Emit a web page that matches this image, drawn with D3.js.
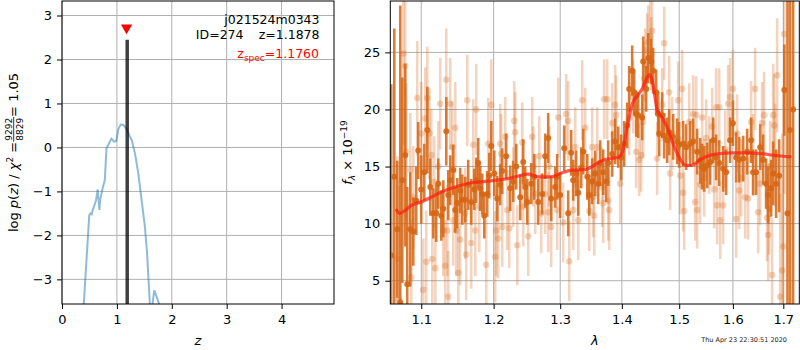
<!DOCTYPE html>
<html>
<head>
<meta charset="utf-8">
<script src="https://cdn.jsdelivr.net/npm/d3@7"></script>
<style>
  html, body { margin: 0; padding: 0; background: #fff; }
  svg { display: block; font-family: "DejaVu Sans", sans-serif; }
</style>
</head>
<body>
<svg id="chart" width="800" height="350"></svg>
<script>
// ---------------- data: left panel (redshift PDF) ----------------
const zTicks = [0, 1, 2, 3, 4];
const logpTicks = [-3, -2, -1, 0, 1, 2, 3];
const pzZ   = [0.38, 0.497, 0.52, 0.54, 0.57, 0.62, 0.65, 0.68, 0.70, 0.74, 0.78, 0.81, 0.86, 0.90, 0.95, 0.99, 1.03, 1.07, 1.12, 1.18, 1.24, 1.27, 1.33, 1.39, 1.45, 1.51, 1.55, 1.60, 1.62, 1.66, 1.68, 1.72, 1.78, 1.82];
const pzLog = [-3.9, -1.54, -1.5, -1.52, -1.39, -1.2, -0.95, -1.42, -1.16, -0.93, -0.74, -0.02, 0.1, 0.2, 0.13, 0.15, 0.43, 0.52, 0.51, 0.41, 0.24, 0.17, -0.14, -0.59, -1.2, -1.8, -2.4, -3.56, -3.9, -3.45, -3.25, -3.38, -3.6, -3.9];
const zBest = 1.1878, zBestTop = 2.45;
const zSpec = 1.1760, zSpecMark = 2.72;
const fieldName = "j021524m0343";
const idText = "ID=274";
const zText = "z=1.1878";
const zSpecText = "=1.1760";

// ---------------- data: right panel (spectrum) ----------------
const lamTicks = [1.1, 1.2, 1.3, 1.4, 1.5, 1.6, 1.7];
const fluxTicks = [5, 10, 15, 20, 25];

const darkLam = [1.0610,1.0649,1.0687,1.0726,1.0752,1.0790,1.0816,1.0856,1.0895,1.0934,1.0960,1.1000,1.1040,1.1080,1.1120,1.1160,1.1200,1.1227,1.1268,1.1295,1.1336,1.1363,1.1390,1.1431,1.1459,1.1487,1.1527,1.1556,1.1598,1.1639,1.1681,1.1724,1.1752,1.1780,1.1809,1.1837,1.1866,1.1908,1.1937,1.1966,1.2009,1.2052,1.2095,1.2124,1.2183,1.2242,1.2286,1.2331,1.2390,1.2435,1.2465,1.2495,1.2555,1.2600,1.2661,1.2722,1.2768,1.2814,1.2860,1.2922,1.2953,1.3000,1.3063,1.3126,1.3173,1.3205,1.3253,1.3285,1.3333,1.3365,1.3430,1.3462,1.3510,1.3559,1.3608,1.3641,1.3690,1.3739,1.3772,1.3839,1.3888,1.3939,1.3989,1.4040,1.4090,1.4124,1.4175,1.4209,1.4244,1.4278,1.4347,1.4364,1.4416,1.4451,1.4503,1.4538,1.4590,1.4625,1.4643,1.4696,1.4731,1.4784,1.4820,1.4891,1.4963,1.4999,1.5071,1.5126,1.5199,1.5254,1.5327,1.5383,1.5420,1.5457,1.5513,1.5569,1.5625,1.5681,1.5739,1.5814,1.5871,1.5947,1.6000,1.6063,1.6121,1.6199,1.6277,1.6355,1.6394,1.6453,1.6534,1.6592,1.6652,1.6693,1.6753,1.6794,1.6854,1.6915,1.7021,1.7085,1.7139,1.7202];
const darkFlux = [7.2,14.1,9.5,3.1,13.8,16.0,4.7,9.5,9.3,12.0,16.4,13.0,14.5,18.2,13.2,10.9,10.9,13.5,10.7,11.3,18.1,12.5,13.8,14.7,11.2,11.8,12.9,12.1,12.1,13.4,11.9,13.0,13.8,15.3,13.1,12.6,10.7,12.6,14.2,16.8,14.4,12.2,13.4,14.6,15.9,13.1,13.7,15.0,12.3,15.4,13.2,11.9,13.5,14.1,11.9,12.6,15.9,17.5,12.2,13.2,14.1,12.5,16.6,10.9,16.2,13.8,14.4,12.7,14.9,16.3,14.1,12.5,13.7,14.4,13.5,15.3,14.5,13.7,15.3,16.1,17.2,16.7,15.8,17.0,18.6,21.8,23.4,21.5,19.6,19.5,19.3,24.2,21.8,24.5,24.2,23.4,21.5,19.6,17.9,19.5,17.7,17.3,18.0,17.6,17.2,16.9,17.0,16.7,17.0,17.2,16.3,15.5,15.0,14.8,15.1,15.4,17.3,15.8,15.3,14.8,14.5,17.3,18.8,15.8,15.6,15.7,16.3,17.3,14.5,14.5,16.7,15.6,13.5,12.5,13.1,14.4,13.5,14.2,21.7,10.9,18.2,20.0];
const darkErr = [15,13,6,26,9,8,8.5,5,3,3,2.5,3,2.5,3.8,2.5,2.2,2.5,2.2,2.2,2.5,3.0,2.2,2.2,2.2,2.0,2.2,2.0,2.2,2.0,2.2,2.0,1.8,2.0,2.2,2.0,1.8,2.0,2.0,2.0,2.2,2.0,2.0,1.8,2.0,2.0,2.0,1.8,2.0,2.0,2.0,1.8,2.0,1.8,2.0,2.0,1.8,2.0,2.2,2.0,1.8,2.0,2.0,2.0,2.0,2.0,1.8,2.0,2.0,1.8,2.0,2.0,1.8,2.0,2.0,1.8,2.0,2.0,1.8,2.0,2.0,2.0,1.8,2.0,2.0,2.0,2.0,2.2,2.0,2.0,2.0,2.0,2.2,2.0,2.2,2.0,2.0,2.0,2.0,2.0,2.0,2.0,2.0,2.0,2.0,2.0,2.0,2.0,2.0,2.0,2.0,2.0,2.0,2.0,2.0,2.0,2.0,2.0,2.0,2.0,2.0,2.0,2.0,2.0,2.2,2.0,2.0,2.0,2.0,2.0,2.0,2.0,2.2,2.2,2.5,2.5,2.8,3.0,3.2,4.0,20,20,20,9];

const lightLam = [1.0687,1.0713,1.0765,1.0790,1.0803,1.0856,1.0869,1.0895,1.0947,1.1000,1.1026,1.1053,1.1066,1.1080,1.1107,1.1133,1.1147,1.1173,1.1187,1.1227,1.1254,1.1295,1.1322,1.1336,1.1350,1.1363,1.1390,1.1418,1.1431,1.1459,1.1473,1.1501,1.1527,1.1598,1.1611,1.1625,1.1681,1.1710,1.1738,1.1752,1.1795,1.1894,1.1923,1.1966,1.2023,1.2038,1.2066,1.2095,1.2109,1.2124,1.2168,1.2198,1.2227,1.2286,1.2301,1.2316,1.2346,1.2420,1.2435,1.2510,1.2570,1.2585,1.2615,1.2676,1.2707,1.2768,1.2814,1.2830,1.2860,1.2953,1.2969,1.3047,1.3094,1.3126,1.3142,1.3205,1.3237,1.3285,1.3349,1.3397,1.3462,1.3510,1.3526,1.3543,1.3592,1.3674,1.3690,1.3706,1.3756,1.3772,1.3789,1.3839,1.3888,1.3905,1.3972,1.4124,1.4192,1.4244,1.4296,1.4330,1.4364,1.4381,1.4399,1.4433,1.4451,1.4485,1.4503,1.4520,1.4608,1.4696,1.4731,1.4820,1.4838,1.4874,1.4981,1.5017,1.5053,1.5071,1.5090,1.5181,1.5254,1.5290,1.5309,1.5327,1.5383,1.5420,1.5457,1.5494,1.5550,1.5606,1.5644,1.5681,1.5700,1.5739,1.5758,1.5814,1.5852,1.5909,1.5947,1.6000,1.6063,1.6082,1.6121,1.6160,1.6238,1.6296,1.6355,1.6394,1.6433,1.6494,1.6534,1.6572,1.6612,1.6672,1.6693,1.6713,1.6733,1.6773,1.6794,1.6814,1.6834,1.6874,1.6936,1.6979,1.7000,1.7021];
const lightFlux = [6.9,3.3,24.9,23.8,16.3,14.7,5.3,12.3,21.0,17.9,4.2,19.2,6.65,21.0,17.9,16.0,6.9,13.65,6.1,15.0,20.5,9.4,6.3,22.6,9.4,3.6,20.5,16.7,10.3,18.4,9.4,5.7,8.6,10.9,7.3,20.8,8.3,16.9,9.4,20.0,11.5,6.4,17.0,20.4,7.1,9.4,8.7,17.0,16.1,9.7,17.6,11.2,9.6,13.2,19.0,18.0,8.1,17.1,11.5,8.9,17.6,15.0,12.6,15.9,10.9,12.6,11.0,15.0,9.7,11.2,19.3,10.1,19.6,19.0,6.7,11.2,16.7,10.3,20.8,18.4,11.1,16.7,12.3,10.7,16.7,13.2,11.8,20.9,20.9,12.0,11.2,18.8,20.4,19.5,13.5,19.2,21.1,16.3,15.6,16.0,18.9,22.7,23.9,25.2,25.9,26.4,24.9,26.9,15.7,20.4,25.8,21.5,14.4,17.9,20.8,14.2,21.8,12.7,11.1,18.9,19.6,11.9,19.5,11.2,13.4,19.3,14.0,17.5,16.0,18.5,13.0,20.2,11.6,20.2,10.3,11.6,16.5,20.5,21.1,21.8,10.4,17.9,12.9,14.0,12.3,12.2,18.9,16.0,21.8,11.0,13.5,18.8,19.5,10.5,9.0,11.3,15.0,5.5,19.5,18.6,16.0,23.0,3.6,5.9,8.0,26.6];
const lightErr = [9,10,8,8,6,5,5,4.5,5,4.5,4.5,4.5,4.5,4.5,4,4,4,4,4,4,4,4,4,4.5,4,4,4,4,4,4,4,4,4,4,4,4,4,4,4,4,4,4,4,4,4,4,3.5,3.5,3.5,3.5,3.5,3.5,3.5,3.5,3.5,3.5,3.5,3.5,3.5,3.5,3.5,3.5,3.5,3.5,3.5,3.5,3.5,3.5,3.5,3.5,3.5,3.5,3.5,3.5,3.5,3.5,3.5,3.5,3.5,3.5,3.5,3.5,3.5,3.5,3.5,3.5,3.5,3.5,3.5,3.5,3.5,3.5,3.5,3.5,3.5,3.2,3.2,3.2,3.2,3.2,3.2,3.2,3.2,3.2,3.2,3.2,3.2,3.2,3.2,3.2,3.2,3.2,3.2,3.2,3.4,3.4,3.4,3.4,3.4,3.4,3.4,3.4,3.4,3.4,3.4,3.4,3.4,3.4,3.4,3.4,3.4,3.4,3.4,3.4,3.4,3.4,3.4,3.4,3.4,3.4,3.4,3.4,3.4,3.4,3.6,3.6,3.6,3.6,3.6,3.6,3.6,3.6,3.8,3.8,4,4,4,5,4.5,4.5,4.5,5,9,12,14,14];

const modelLam  = [1.068,1.072,1.079,1.087,1.100,1.114,1.127,1.140,1.154,1.167,1.181,1.195,1.203,1.221,1.235,1.251,1.266,1.286,1.302,1.318,1.340,1.350,1.361,1.372,1.381,1.395,1.401,1.409,1.418,1.427,1.435,1.444,1.448,1.452,1.461,1.469,1.478,1.489,1.501,1.512,1.523,1.538,1.557,1.576,1.600,1.627,1.653,1.680,1.700,1.714];
const modelFlux = [11.17,10.9,11.17,11.6,11.9,12.34,12.78,13.07,13.36,13.56,13.65,13.74,13.8,13.95,14.15,14.33,14.09,14.09,14.44,14.68,14.74,14.97,15.35,15.61,15.7,15.84,16.28,18.47,20.52,21.24,21.83,22.85,23.08,22.56,19.93,19.34,18.47,17.01,15.7,15.11,15.11,15.6,15.99,16.14,16.19,16.19,16.14,15.99,15.9,15.84];

const stamp = "Thu Apr 23 22:30:51 2020";

// ---------------- drawing ----------------
const svg = d3.select("#chart");
const FONT = "DejaVu Sans";
const TICK_FS = 13;
const ANN_FS = 12.5;
const GRID = "#b0b0b0";
const ORANGE = "#d66614";
const minusFmt = v => (v < 0 ? "\u2212" + Math.abs(v) : String(v));

const L = {x0: 62, x1: 334, y0: 1, y1: 304};
const R = {x0: 390.3, x1: 799.3, y0: 1, y1: 304};

const xz = d3.scaleLinear().domain([0, 4.955]).range([L.x0, L.x1]);
const yp = d3.scaleLinear().domain([-3.56, 3.33]).range([L.y1, L.y0]);
const xl = d3.scaleLog().domain([1.0598, 1.733]).range([R.x0, R.x1]);
const yf = d3.scaleLinear().domain([2.96, 29.5]).range([R.y1, R.y0]);

const defs = svg.append("defs");
defs.append("clipPath").attr("id", "clipL").append("rect")
  .attr("x", L.x0).attr("y", L.y0).attr("width", L.x1 - L.x0).attr("height", L.y1 - L.y0);
defs.append("clipPath").attr("id", "clipR").append("rect")
  .attr("x", R.x0).attr("y", R.y0).attr("width", R.x1 - R.x0).attr("height", R.y1 - R.y0);

function grid(g, xs, xt, ys, yt, B) {
  g.selectAll(".gx").data(xt).join("line").attr("class", "gx")
    .attr("x1", d => xs(d)).attr("x2", d => xs(d))
    .attr("y1", B.y0).attr("y2", B.y1)
    .attr("stroke", GRID).attr("stroke-width", 1);
  g.selectAll(".gy").data(yt).join("line").attr("class", "gy")
    .attr("x1", B.x0).attr("x2", B.x1)
    .attr("y1", d => ys(d)).attr("y2", d => ys(d))
    .attr("stroke", GRID).attr("stroke-width", 1);
}

function axes(xs, xt, xfmt, ys, yt, yfmt, B) {
  const gx = svg.append("g").attr("transform", `translate(0,${B.y1})`)
    .call(d3.axisBottom(xs).tickValues(xt).tickFormat(xfmt).tickSize(5).tickPadding(6));
  const gy = svg.append("g").attr("transform", `translate(${B.x0},0)`)
    .call(d3.axisLeft(ys).tickValues(yt).tickFormat(yfmt).tickSize(5).tickPadding(5));
  [gx, gy].forEach(g => {
    g.select(".domain").remove();
    g.attr("font-family", FONT).attr("font-size", TICK_FS);
    g.selectAll("line").attr("stroke", "#000").attr("stroke-width", 1);
    g.selectAll("text").attr("fill", "#000");
  });
  svg.append("rect").attr("x", B.x0).attr("y", B.y0)
    .attr("width", B.x1 - B.x0).attr("height", B.y1 - B.y0)
    .attr("fill", "none").attr("stroke", "#000").attr("stroke-width", 1);
}

// ---- left panel ----
const gL = svg.append("g");
grid(gL.append("g"), xz, zTicks, yp, logpTicks, L);
const plotL = gL.append("g").attr("clip-path", "url(#clipL)");
plotL.append("path")
  .datum(pzZ.map((z, i) => [z, pzLog[i]]))
  .attr("d", d3.line().x(d => xz(d[0])).y(d => yp(d[1])))
  .attr("fill", "none").attr("stroke", "#1f77b4").attr("stroke-opacity", 0.5)
  .attr("stroke-width", 2);
plotL.append("line")
  .attr("x1", xz(zBest)).attr("x2", xz(zBest))
  .attr("y1", yp(-3.56)).attr("y2", yp(zBestTop))
  .attr("stroke", "#000").attr("stroke-opacity", 0.75).attr("stroke-width", 3.5);
const tri = d3.symbol().type(d3.symbolTriangle).size(55);
plotL.append("path").attr("d", tri)
  .attr("transform", `translate(${xz(zSpec)},${yp(zSpecMark)}) rotate(180)`)
  .attr("fill", "red");
axes(xz, zTicks, d3.format("d"), yp, logpTicks, minusFmt, L);

svg.append("text").attr("x", 319.5).attr("y", 24).attr("text-anchor", "end")
  .attr("font-family", FONT).attr("font-size", ANN_FS).text(fieldName);
svg.append("text").attr("x", 243.5).attr("y", 38.5).attr("text-anchor", "end")
  .attr("font-family", FONT).attr("font-size", ANN_FS).text(idText);
svg.append("text").attr("x", 319.5).attr("y", 38.5).attr("text-anchor", "end")
  .attr("font-family", FONT).attr("font-size", ANN_FS).text(zText);
const zs = svg.append("text").attr("x", 319).attr("y", 58).attr("text-anchor", "end")
  .attr("font-family", FONT).attr("font-size", ANN_FS).attr("fill", "red");
zs.append("tspan").text("z");
zs.append("tspan").attr("font-size", 9).attr("dy", 2.5).text("spec");
zs.append("tspan").attr("dy", -2.5).text(zSpecText);

svg.append("text").attr("x", (L.x0 + L.x1) / 2).attr("y", 345).attr("text-anchor", "middle")
  .attr("font-family", FONT).attr("font-size", 13).attr("font-style", "italic").text("z");

// left y label with fraction
(function () {
  const g = svg.append("g");
  const t1 = g.append("text").attr("font-family", FONT).attr("font-size", 13);
  t1.append("tspan").text("log ");
  t1.append("tspan").attr("font-style", "italic").text("p");
  t1.append("tspan").text("(");
  t1.append("tspan").attr("font-style", "italic").text("z");
  t1.append("tspan").text(") / ");
  t1.append("tspan").attr("font-style", "italic").text("\u03c7");
  t1.append("tspan").attr("font-size", 9).attr("dy", -5).text("2");
  t1.append("tspan").attr("dy", 5).text(" = ");
  const w1 = t1.node().getComputedTextLength();
  const num = g.append("text").attr("font-family", FONT).attr("font-size", 9)
    .attr("text-anchor", "middle").attr("y", -6.5).text("9292");
  const den = g.append("text").attr("font-family", FONT).attr("font-size", 9)
    .attr("text-anchor", "middle").attr("y", 4.5).text("8829");
  const wf = Math.max(num.node().getComputedTextLength(), den.node().getComputedTextLength()) + 2;
  num.attr("x", w1 + wf / 2); den.attr("x", w1 + wf / 2);
  g.append("line").attr("x1", w1).attr("x2", w1 + wf).attr("y1", -4.3).attr("y2", -4.3)
    .attr("stroke", "#000").attr("stroke-width", 0.8);
  const t2 = g.append("text").attr("font-family", FONT).attr("font-size", 13)
    .attr("x", w1 + wf).text(" = 1.05");
  const W = w1 + wf + t2.node().getComputedTextLength();
  g.attr("transform", `translate(18,${152.5 + W / 2}) rotate(-90)`);
})();

// ---- right panel ----
const gR = svg.append("g");
grid(gR.append("g"), xl, lamTicks, yf, fluxTicks, R);
const plotR = gR.append("g").attr("clip-path", "url(#clipR)");

const light = lightLam.map((l, i) => ({l, f: lightFlux[i], e: lightErr[i]}));
const dark = darkLam.map((l, i) => ({l, f: darkFlux[i], e: darkErr[i]}));

const gl = plotR.append("g");
gl.selectAll("line").data(light).join("line")
  .attr("x1", d => xl(d.l)).attr("x2", d => xl(d.l))
  .attr("y1", d => yf(d.f - d.e)).attr("y2", d => yf(d.f + d.e))
  .attr("stroke", ORANGE).attr("stroke-opacity", 0.28).attr("stroke-width", 2.6);
gl.selectAll("circle").data(light).join("circle")
  .attr("cx", d => xl(d.l)).attr("cy", d => yf(d.f)).attr("r", 3.3)
  .attr("fill", ORANGE).attr("fill-opacity", 0.28);

const gd = plotR.append("g");
gd.selectAll("line").data(dark).join("line")
  .attr("x1", d => xl(d.l)).attr("x2", d => xl(d.l))
  .attr("y1", d => yf(d.f - d.e)).attr("y2", d => yf(d.f + d.e))
  .attr("stroke", ORANGE).attr("stroke-opacity", 0.85).attr("stroke-width", 2.6);
gd.selectAll("circle").data(dark).join("circle")
  .attr("cx", d => xl(d.l)).attr("cy", d => yf(d.f)).attr("r", 3)
  .attr("fill", ORANGE).attr("fill-opacity", 0.9);

plotR.append("path")
  .datum(modelLam.map((l, i) => [l, modelFlux[i]]))
  .attr("d", d3.line().curve(d3.curveMonotoneX).x(d => xl(d[0])).y(d => yf(d[1])))
  .attr("fill", "none").attr("stroke", "#ff1a10").attr("stroke-opacity", 0.7)
  .attr("stroke-width", 3.2).attr("stroke-linecap", "round");

axes(xl, lamTicks, d3.format(".1f"), yf, fluxTicks, d3.format("d"), R);

svg.append("text").attr("x", (R.x0 + R.x1) / 2).attr("y", 345).attr("text-anchor", "middle")
  .attr("font-family", FONT).attr("font-size", 13).attr("font-style", "italic").text("\u03bb");

(function () {
  const g = svg.append("g");
  const t = g.append("text").attr("font-family", FONT).attr("font-size", 13);
  t.append("tspan").attr("font-style", "italic").text("f");
  t.append("tspan").attr("font-style", "italic").attr("font-size", 9).attr("dy", 3).text("\u03bb");
  t.append("tspan").attr("dy", -3).text(" \u00d7 10");
  t.append("tspan").attr("font-size", 9).attr("dy", -5.5).text("\u221219");
  const W = t.node().getComputedTextLength();
  g.attr("transform", `translate(352,${152.5 + W / 2}) rotate(-90)`);
})();

svg.append("text").attr("x", 787).attr("y", 342).attr("text-anchor", "end")
  .attr("font-family", FONT).attr("font-size", 6.5).attr("fill", "#222").text(stamp);
</script>
</body>
</html>
